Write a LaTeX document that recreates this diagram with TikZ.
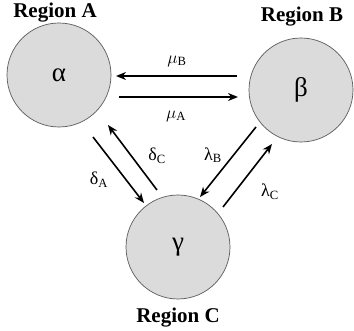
\documentclass[tikz,border=0pt]{standalone}
\usepackage{fontspec}
\setmainfont{Liberation Serif}
\usetikzlibrary{arrows.meta}
\begin{document}
\begin{tikzpicture}[x=1pt,y=-1pt,
  region/.style={circle,draw=black!65,line width=0.7pt,fill=black!14,minimum size=104pt,inner sep=0pt,font=\fontsize{27}{30}\selectfont},
  rlabel/.style={font=\bfseries\fontsize{21}{24}\selectfont,inner sep=0pt},
  flow/.style={line width=1.6pt,-{Stealth[length=10pt,width=8pt]}},
  rate/.style={font=\fontsize{18}{20}\selectfont,inner sep=0pt}]
\useasboundingbox (0,0) rectangle (354,331);
\node[region] (a) at (59,75) {α};
\node[region] (b) at (301,90) {β};
\node[region] (c) at (178,247) {γ};
\node[rlabel] (ra) at (55,13) {Region A};
\node[rlabel] (rb) at (302,17) {Region B};
\node[rlabel] (rc) at (178,318) {Region C};
% endpoints
\coordinate (mb1) at (237,76); \coordinate (mb2) at (116,76);
\coordinate (ma1) at (119,97); \coordinate (ma2) at (238,97);
\coordinate (da1) at (93,137); \coordinate (da2) at (144,203);
\coordinate (dc1) at (157,190); \coordinate (dc2) at (108,125);
\coordinate (lb1) at (256,127); \coordinate (lb2) at (200,197);
\coordinate (lc1) at (223,207); \coordinate (lc2) at (272,144);
\draw[flow] (mb1) -- (mb2);
\draw[flow] (ma1) -- (ma2);
\draw[flow] (da1) -- (da2);
\draw[flow] (dc1) -- (dc2);
\draw[flow] (lb1) -- (lb2);
\draw[flow] (lc1) -- (lc2);
\node[rate] (lmb) at (177,61) {$\mu$\textsubscript{B}};
\node[rate] (lma) at (176,116) {$\mu$\textsubscript{A}};
\node[rate] (lda) at (99,180) {δ\textsubscript{A}};
\node[rate] (ldc) at (157,156) {δ\textsubscript{C}};
\node[rate] (llb) at (213,155) {λ\textsubscript{B}};
\node[rate] (llc) at (270,192) {λ\textsubscript{C}};
\end{tikzpicture}
\end{document}
